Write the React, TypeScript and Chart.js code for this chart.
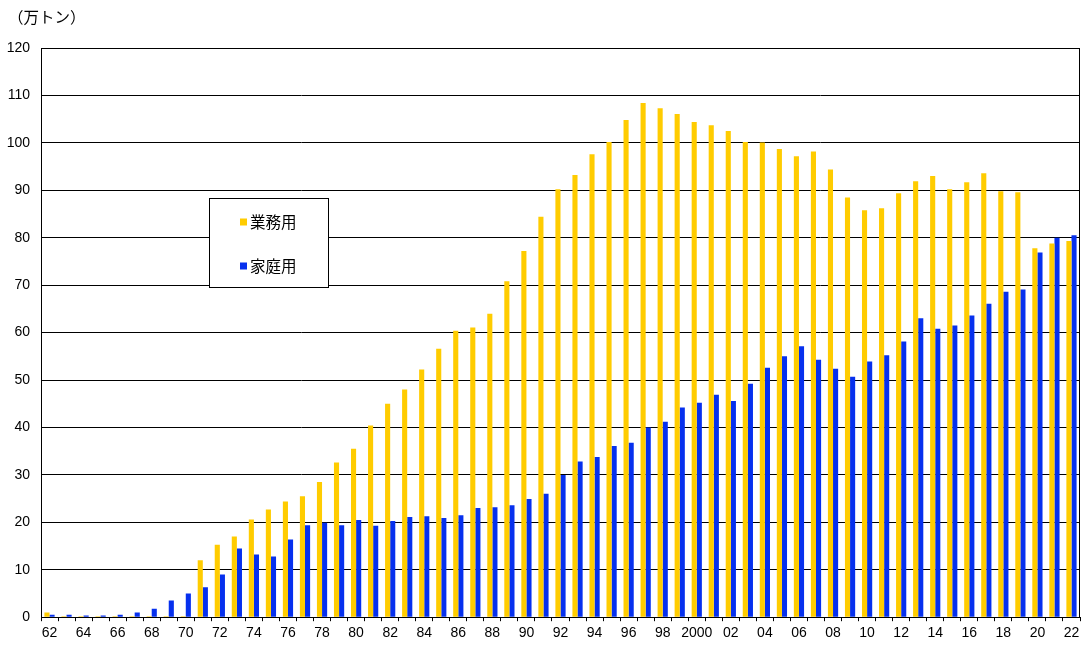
import { useEffect, useRef } from 'react';
import { Chart, registerables } from 'chart.js';

Chart.register(...registerables);

const years = [
  '62', '63', '64', '65', '66', '67', '68', '69', '70', '71',
  '72', '73', '74', '75', '76', '77', '78', '79', '80', '81',
  '82', '83', '84', '85', '86', '87', '88', '89', '90', '91',
  '92', '93', '94', '95', '96', '97', '98', '99', '2000', '01',
  '02', '03', '04', '05', '06', '07', '08', '09', '10', '11',
  '12', '13', '14', '15', '16', '17', '18', '19', '20', '21', '22',
];

// 業務用（万トン）
const commercial = [
  1.0, 0.2, 0.2, 0.2, 0.2, 0.2, 0.2, 0.2, 0.2, 12.0,
  15.3, 17.0, 20.6, 22.7, 24.4, 25.5, 28.5, 32.6, 35.5, 40.4,
  45.0, 48.0, 52.2, 56.6, 60.4, 61.1, 64.0, 70.8, 77.2, 84.4,
  90.2, 93.2, 97.6, 100.2, 104.8, 108.4, 107.3, 106.1, 104.4, 103.7,
  102.5, 100.2, 100.1, 98.7, 97.2, 98.2, 94.4, 88.5, 85.8, 86.2,
  89.4, 91.9, 93.0, 90.2, 91.7, 93.6, 89.8, 89.6, 77.8, 78.8, 79.3,
];

// 家庭用（万トン）
const household = [
  0.5, 0.5, 0.35, 0.35, 0.5, 1.0, 1.8, 3.5, 5.0, 6.3,
  9.0, 14.5, 13.2, 12.8, 16.4, 19.4, 19.9, 19.4, 20.5, 19.3,
  20.3, 21.1, 21.3, 20.9, 21.5, 23.0, 23.2, 23.6, 24.9, 26.0,
  30.0, 32.8, 33.8, 36.1, 36.8, 40.0, 41.2, 44.2, 45.2, 46.9,
  45.6, 49.2, 52.6, 55.0, 57.1, 54.3, 52.4, 50.7, 53.9, 55.2,
  58.1, 63.0, 60.8, 61.5, 63.6, 66.1, 68.6, 69.1, 76.9, 80.0, 80.5,
];

const seriesNames = ['業務用', '家庭用'];
const seriesColors = ['#ffcc00', '#0630ee'];

const FONT = '"Liberation Sans", Arial, "Noto Sans CJK JP", sans-serif';
const JP_FONT = '"Noto Sans CJK JP", "Liberation Sans", sans-serif';

// white legend box floating inside the plot area + right/top frame
const boxLegend = {
  id: 'boxLegend',
  afterDatasetsDraw(chart: Chart) {
    const { ctx, chartArea } = chart;
    ctx.save();
    ctx.strokeStyle = '#000';
    ctx.lineWidth = 1;
    ctx.beginPath();
    ctx.moveTo(chartArea.left, chartArea.top + 0.5);
    ctx.lineTo(chartArea.right - 0.5, chartArea.top + 0.5);
    ctx.lineTo(chartArea.right - 0.5, chartArea.bottom);
    ctx.stroke();

    const x = chartArea.left + 168;
    const y = chartArea.top + 150;
    const w = 119;
    const h = 89;
    ctx.fillStyle = '#fff';
    ctx.fillRect(x, y, w, h);
    ctx.strokeRect(x + 0.5, y + 0.5, w, h);

    ctx.font = '15.5px ' + JP_FONT;
    ctx.textBaseline = 'middle';
    chart.data.datasets.forEach((ds, i) => {
      const cy = y + 24 + i * 44;
      ctx.fillStyle = ds.backgroundColor as string;
      ctx.fillRect(x + 31, cy - 3.5, 7, 7);
      ctx.fillStyle = '#000';
      ctx.fillText(ds.label || '', x + 41, cy);
    });
    ctx.restore();
  },
};

export default function App() {
  const canvasRef = useRef<HTMLCanvasElement>(null);

  useEffect(() => {
    if (!canvasRef.current) return;
    const chart = new Chart(canvasRef.current, {
      type: 'bar',
      data: {
        labels: years,
        datasets: [
          {
            label: seriesNames[0],
            data: commercial,
            backgroundColor: seriesColors[0],
            categoryPercentage: 0.6,
            barPercentage: 1.0,
          },
          {
            label: seriesNames[1],
            data: household,
            backgroundColor: seriesColors[1],
            categoryPercentage: 0.6,
            barPercentage: 1.0,
          },
        ],
      },
      options: {
        animation: false,
        responsive: true,
        maintainAspectRatio: false,
        layout: {
          padding: { top: 48, right: 4, bottom: 2, left: 0 },
        },
        plugins: {
          legend: { display: false },
          tooltip: { enabled: false },
        },
        scales: {
          x: {
            grid: {
              display: true,
              drawOnChartArea: false,
              color: '#000',
              tickLength: 4,
            },
            border: { display: true, color: '#000' },
            ticks: {
              color: '#000',
              autoSkip: false,
              maxRotation: 0,
              padding: 4,
              font: { family: FONT, size: 14 },
              callback: function (_value, index) {
                return index % 2 === 0 ? years[index] : '';
              },
            },
          },
          y: {
            min: 0,
            max: 120,
            afterFit: (scale) => {
              scale.width = 41;
            },
            grid: { color: '#000', drawTicks: false },
            border: { display: true, color: '#000' },
            ticks: {
              stepSize: 10,
              color: '#000',
              padding: 11,
              font: { family: FONT, size: 14 },
            },
          },
        },
      },
      plugins: [boxLegend],
    });
    return () => chart.destroy();
  }, []);

  return (
    <div style={{ position: 'fixed', left: 0, top: 0, width: 1084, height: 648, background: '#fff' }}>
      <div
        style={{
          position: 'absolute',
          left: 8,
          top: 5,
          fontFamily: JP_FONT,
          fontSize: 15.5,
          color: '#000',
        }}
      >
        （万トン）
      </div>
      <canvas ref={canvasRef} />
    </div>
  );
}
